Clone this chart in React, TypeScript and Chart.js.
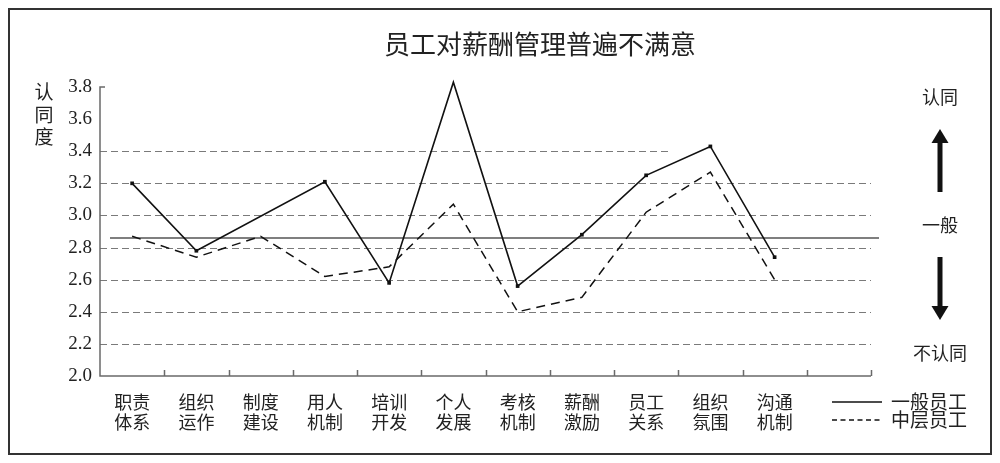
import React, { useEffect, useRef } from "react";
import { Chart, registerables } from "chart.js";

Chart.register(...registerables);

// ---- data ----
const categories: (string | string[])[] = [
  ["职责", "体系"],
  ["组织", "运作"],
  ["制度", "建设"],
  ["用人", "机制"],
  ["培训", "开发"],
  ["个人", "发展"],
  ["考核", "机制"],
  ["薪酬", "激励"],
  ["员工", "关系"],
  ["组织", "氛围"],
  ["沟通", "机制"],
  "",
];
const generalStaff: (number | null)[] = [3.2, 2.78, null, 3.21, 2.58, 3.83, 2.56, 2.88, 3.25, 3.43, 2.74];
const middleStaff: (number | null)[] = [2.87, 2.74, 2.87, 2.62, 2.68, 3.07, 2.4, 2.49, 3.02, 3.27, 2.6];
const seriesNames = ["一般员工", "中层员工"];
const yMin = 2.0;
const yMax = 3.8;
const yStep = 0.2;
const gridValues = [2.2, 2.4, 2.6, 2.8, 3.0, 3.2, 3.4];
const neutralLevel = 2.86;
const titleText = "员工对薪酬管理普遍不满意";
const yTitleChars = ["认", "同", "度"];
const sideTop = "认同";
const sideMid = "一般";
const sideBottom = "不认同";

const CJK = '"Noto Sans CJK SC", "Noto Sans", sans-serif';
const SERIF = '"Liberation Serif", "DejaVu Serif", serif';

const decor = {
  id: "decor",
  beforeDatasetsDraw(chart: any) {
    const { ctx, chartArea: a, scales } = chart;
    const y = scales.y;
    ctx.save();
    // dashed gridlines
    ctx.strokeStyle = "#7a7a7a";
    ctx.lineWidth = 1.2;
    ctx.setLineDash([7, 4]);
    gridValues.forEach((v) => {
      const py = Math.round(y.getPixelForValue(v)) + 0.5;
      const end = v === 3.4 ? a.left + (a.right - a.left) * 0.737 : a.right;
      ctx.beginPath();
      ctx.moveTo(a.left, py);
      ctx.lineTo(end, py);
      ctx.stroke();
    });
    ctx.setLineDash([]);
    // axes
    ctx.strokeStyle = "#6a6a6a";
    ctx.lineWidth = 1.5;
    ctx.beginPath();
    ctx.moveTo(a.left + 5, a.top);
    ctx.lineTo(a.left, a.top);
    ctx.lineTo(a.left, a.bottom);
    ctx.lineTo(a.right, a.bottom);
    ctx.stroke();
    const w = (a.right - a.left) / categories.length;
    ctx.beginPath();
    for (let k = 1; k <= categories.length; k++) {
      const px = Math.round(a.left + k * w) + 0.5;
      ctx.moveTo(px, a.bottom);
      ctx.lineTo(px, a.bottom - 6);
    }
    ctx.stroke();
    // neutral reference line
    ctx.strokeStyle = "#555";
    ctx.lineWidth = 1.5;
    const ny = y.getPixelForValue(neutralLevel);
    ctx.beginPath();
    ctx.moveTo(a.left + 10, ny);
    ctx.lineTo(a.right + 8, ny);
    ctx.stroke();
    ctx.restore();
  },
  afterDraw(chart: any) {
    const { ctx, chartArea: a, width, height } = chart;
    ctx.save();
    // outer border
    ctx.strokeStyle = "#333";
    ctx.lineWidth = 2;
    ctx.strokeRect(1, 1, width - 2, height - 2);
    ctx.fillStyle = "#222";
    ctx.textAlign = "center";
    ctx.textBaseline = "middle";
    // title
    ctx.font = `26px ${CJK}`;
    ctx.fillText(titleText, 532, 36);
    // y title
    ctx.font = `19px ${CJK}`;
    yTitleChars.forEach((c, i) => ctx.fillText(c, 36, a.top + 5 + i * 22.5));
    // side annotations
    const sx = 932;
    ctx.font = `18px ${CJK}`;
    ctx.fillText(sideTop, sx, 89);
    ctx.fillText(sideMid, sx, 217);
    ctx.fillText(sideBottom, sx, 345);
    ctx.strokeStyle = "#111";
    ctx.fillStyle = "#111";
    ctx.lineWidth = 5;
    // up arrow
    ctx.beginPath();
    ctx.moveTo(sx, 184);
    ctx.lineTo(sx, 132);
    ctx.stroke();
    ctx.beginPath();
    ctx.moveTo(sx, 121);
    ctx.lineTo(sx - 8.5, 135);
    ctx.lineTo(sx + 8.5, 135);
    ctx.closePath();
    ctx.fill();
    // down arrow
    ctx.beginPath();
    ctx.moveTo(sx, 249);
    ctx.lineTo(sx, 300);
    ctx.stroke();
    ctx.beginPath();
    ctx.moveTo(sx, 312);
    ctx.lineTo(sx - 8.5, 298);
    ctx.lineTo(sx + 8.5, 298);
    ctx.closePath();
    ctx.fill();
    // legend
    ctx.lineWidth = 1.5;
    ctx.strokeStyle = "#111";
    ctx.beginPath();
    ctx.moveTo(824, 394);
    ctx.lineTo(874, 394);
    ctx.stroke();
    ctx.setLineDash([5, 3.5]);
    ctx.beginPath();
    ctx.moveTo(824, 412);
    ctx.lineTo(874, 412);
    ctx.stroke();
    ctx.setLineDash([]);
    ctx.fillStyle = "#222";
    ctx.textAlign = "left";
    ctx.font = `19px ${CJK}`;
    ctx.fillText(seriesNames[0], 883, 394);
    ctx.fillText(seriesNames[1], 883, 412);
    ctx.restore();
  },
};

export default function App() {
  const ref = useRef<HTMLCanvasElement>(null);
  useEffect(() => {
    if (!ref.current) return;
    const chart = new Chart(ref.current, {
      type: "line",
      data: {
        labels: categories,
        datasets: [
          {
            label: seriesNames[0],
            data: generalStaff,
            borderColor: "#111",
            backgroundColor: "#111",
            borderWidth: 1.6,
            pointStyle: "rect",
            pointRadius: 2.6,
            pointBorderWidth: 0,
            spanGaps: true,
            tension: 0,
            clip: false as any,
          },
          {
            label: seriesNames[1],
            data: middleStaff,
            borderColor: "#111",
            borderWidth: 1.5,
            borderDash: [9, 6],
            pointRadius: 0,
            tension: 0,
            clip: false as any,
          },
        ],
      },
      options: {
        responsive: false,
        animation: false,
        devicePixelRatio: 1,
        layout: { padding: { left: 0, right: 121, top: 79, bottom: 0 } },
        plugins: {
          legend: { display: false },
          title: { display: false },
          tooltip: { enabled: false },
        },
        scales: {
          x: {
            type: "category",
            offset: true,
            grid: { display: false, drawTicks: false },
            border: { display: false },
            ticks: {
              autoSkip: false,
              maxRotation: 0,
              minRotation: 0,
              padding: 16,
              color: "#222",
              font: { family: CJK, size: 18, lineHeight: "20px" as any },
            },
            afterFit: (s: any) => {
              s.height = 79;
            },
          },
          y: {
            min: yMin,
            max: yMax,
            grid: { display: false, drawTicks: false },
            border: { display: false },
            ticks: {
              stepSize: yStep,
              padding: 8,
              color: "#222",
              font: { family: SERIF, size: 19 },
              callback: (v: any) => Number(v).toFixed(1),
            },
            afterFit: (s: any) => {
              s.width = 92;
            },
          },
        },
      },
      plugins: [decor],
    });
    return () => chart.destroy();
  }, []);
  return <canvas ref={ref} width={984} height={447} style={{ display: "block" }} />;
}
